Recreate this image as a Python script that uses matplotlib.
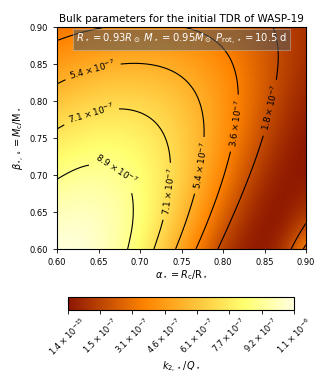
import numpy as np
import matplotlib
matplotlib.use('Agg')
import matplotlib.pyplot as plt
from matplotlib.colors import LinearSegmentedColormap
from matplotlib.tri import Triangulation, UniformTriRefiner

alpha = [0.600, 0.625, 0.650, 0.675, 0.700, 0.725, 0.750, 0.775, 0.800, 0.825, 0.850, 0.875, 0.900]
beta = [0.600, 0.625, 0.650, 0.675, 0.700, 0.725, 0.750, 0.775, 0.800, 0.825, 0.850, 0.875, 0.900]

# k2/Q in units of 1e-7, one row per beta
k2q_rows = [
    [10.698, 10.654, 10.219, 9.3794, 8.1529, 6.6015, 4.8373, 3.0302, 1.4144, 0.29304, 0.042497, 1.1145, 4.0371],
    [10.34, 10.43, 10.15, 9.496, 8.459, 7.084, 5.455, 3.707, 2.035, 0.6983, 0.02213, 0.4055, 2.321],
    [9.895, 10.09, 9.954, 9.464, 8.611, 7.417, 5.943, 4.298, 2.638, 1.183, 0.2107, 0.06998, 1.179],
    [9.376, 9.652, 9.637, 9.297, 8.614, 7.599, 6.294, 4.78, 3.184, 1.688, 0.5279, 0.003969, 0.4824],
    [8.794, 9.133, 9.217, 9.006, 8.479, 7.636, 6.502, 5.138, 3.644, 2.169, 0.9089, 0.1208, 0.1211],
    [8.161, 8.544, 8.705, 8.604, 8.216, 7.533, 6.568, 5.364, 3.998, 2.59, 1.302, 0.3492, 0.001991],
    [7.487, 7.897, 8.115, 8.104, 7.837, 7.299, 6.495, 5.454, 4.234, 2.927, 1.667, 0.6308, 0.04702],
    [6.781, 7.2, 7.458, 7.518, 7.352, 6.944, 6.291, 5.41, 4.343, 3.162, 1.973, 0.9192, 0.1914],
    [6.0516, 6.4652, 6.7442, 6.8564, 6.7743, 6.4787, 5.9626, 5.2347, 4.3239, 3.2835, 2.1961, 1.1776, 0.38217],
    [5.3045, 5.6992, 5.9844, 6.1312, 6.1140, 5.9133, 5.5192, 4.9339, 4.1760, 3.2843, 2.3213, 1.3777, 0.57643],
    [4.5461, 4.9099, 5.1869, 5.3520, 5.3820, 5.2586, 4.9701, 4.5147, 3.9030, 3.1619, 2.3373, 1.4983, 0.74020],
    [3.7815, 4.1039, 4.3598, 4.5279, 4.5885, 4.5249, 4.3253, 3.9853, 3.5100, 2.9166, 2.2378, 1.5241, 0.84703],
    [3.0152, 3.2870, 3.5100, 3.6673, 3.7427, 3.7221, 3.5946, 3.3546, 3.0034, 2.5514, 2.0201, 1.4449, 0.87693],
]

vmin, vmax = 1.4e-15, 1.0715e-6

cmap = LinearSegmentedColormap.from_list(
    'tdr', [(0.0, '#8c1600'), (0.34, '#ff8400'), (0.78, '#ffff70'), (1.0, '#ffffde')])


def sci(v):
    m, e = f'{v:.1e}'.split('e')
    return rf'${m}\times10^{{{int(e)}}}$'


fig = plt.figure(figsize=(3.28, 3.90), dpi=100)
ax = fig.add_axes([0.174, 0.3615, 0.759, 0.569])
cax = fig.add_axes([0.207, 0.205, 0.689, 0.033])

z = np.array(k2q_rows) * 1e-7
A, B = np.meshgrid(alpha, beta)
d = 0.0125
im = ax.imshow(z, origin='lower', extent=[alpha[0]-d, alpha[-1]+d, beta[0]-d, beta[-1]+d],
               cmap=cmap, vmin=vmin, vmax=vmax, interpolation='bicubic', aspect='auto')
ax.set_xlim(0.6, 0.9)
ax.set_ylim(0.6, 0.9)

# smooth contour lines through the grid
tri = Triangulation(A.ravel(), B.ravel())
tri_f, z_f = UniformTriRefiner(tri).refine_field(z.ravel(), subdiv=3)
levels = np.linspace(vmin, vmax, 7)[1:-1]
cs = ax.tricontour(tri_f, z_f, levels=levels, colors='k', linewidths=0.8)
ax.clabel(cs, fmt=sci, fontsize=6.5,
          manual=[(0.642, 0.845), (0.772, 0.713), (0.64, 0.785), (0.733, 0.678),
                  (0.674, 0.711), (0.815, 0.77), (0.86, 0.79)])

ax.set_xticks([0.60, 0.65, 0.70, 0.75, 0.80, 0.85, 0.90])
ax.set_yticks([0.60, 0.65, 0.70, 0.75, 0.80, 0.85, 0.90])
ax.tick_params(labelsize=6, length=3, width=0.6)
ax.set_xlabel(r'$\alpha_\star = R_{\rm c}/{\rm R}_\star$', fontsize=7, labelpad=1)
ax.set_ylabel(r'$\beta_{\star,\circ} = M_{\rm c}/{\rm M}_\star$', fontsize=7, labelpad=2)
ax.set_title('Bulk parameters for the initial TDR of WASP-19', fontsize=7.5, pad=4)
ax.text(0.5, 0.945, r'$R_\star = 0.93R_\odot$ $M_\star = 0.95M_\odot$ $P_{\rm rot,\star} = 10.5$ d',
        transform=ax.transAxes, ha='center', va='center', color='white', fontsize=7.2,
        bbox=dict(boxstyle='square,pad=0.3', facecolor='#5a5a5a', edgecolor='#cccccc',
                  linewidth=0.5, alpha=0.6))

cb = fig.colorbar(im, cax=cax, orientation='horizontal')
ticks = np.linspace(vmin, vmax, 8)
cb.set_ticks(ticks)
cb.set_ticklabels([sci(t) for t in ticks])
cb.ax.tick_params(labelsize=6, rotation=45, length=3, width=0.6, pad=1)
cb.set_label(r'$k_{2,\star}/Q_\star$', fontsize=7, labelpad=1)

fig.savefig('out.png', dpi=100)
